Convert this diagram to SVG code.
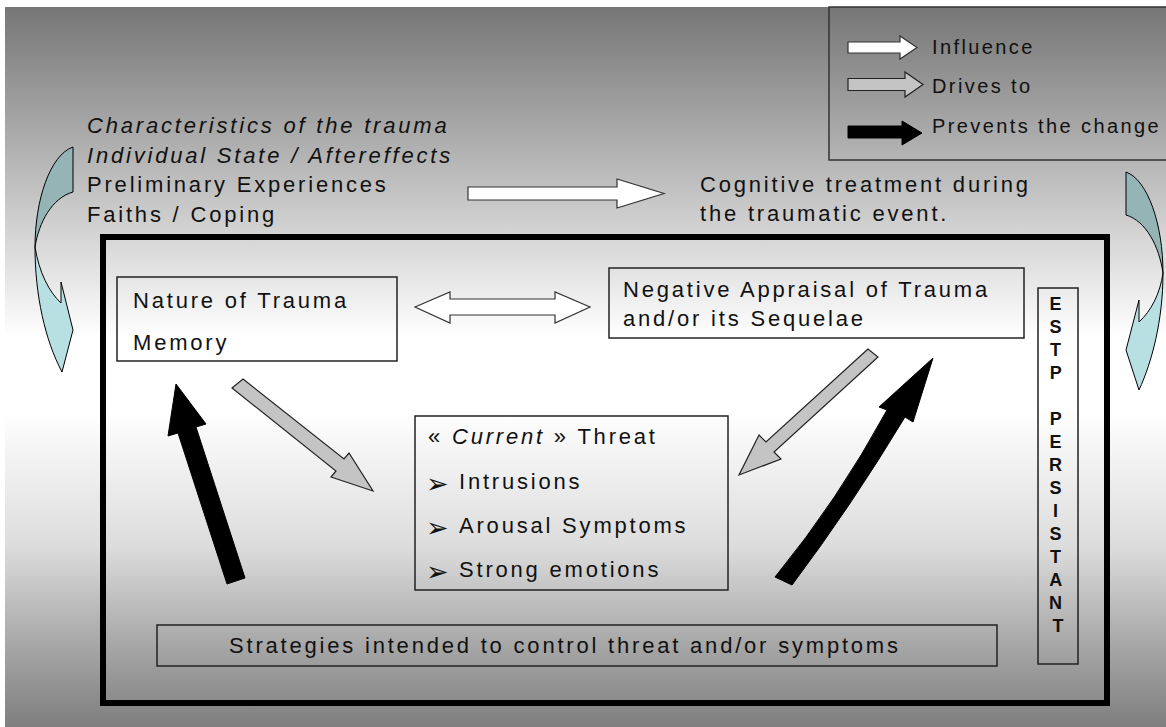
<svg xmlns="http://www.w3.org/2000/svg" width="1166" height="727" viewBox="0 0 1166 727">
  <defs>
    <linearGradient id="bg" x1="0" y1="0" x2="0" y2="1">
      <stop offset="0" stop-color="#767676"/>
      <stop offset="0.46" stop-color="#ffffff"/>
      <stop offset="0.56" stop-color="#ffffff"/>
      <stop offset="0.75" stop-color="#dcdcdc"/>
      <stop offset="0.88" stop-color="#a9a9a9"/>
      <stop offset="1" stop-color="#7e7e7e"/>
    </linearGradient>
  </defs>
  <style>
    text { font-family: "Liberation Sans", Arial, sans-serif; fill: #111; }
    .t { font-size: 22px; letter-spacing: 2.8px; }
    .it { font-style: italic; }
    .lg { font-size: 20px; letter-spacing: 2.4px; }
    .v { font-size: 18px; font-weight: bold; text-anchor: middle; }
    .bul { font-family: "DejaVu Sans", sans-serif; font-size: 27px; }
    .box { fill: none; stroke: #222; stroke-width: 1.5; }
    .white { fill: #ffffff; stroke: #333; stroke-width: 1.2; }
    .grey { fill: #c4c4c4; stroke: #222; stroke-width: 1.2; }
    .black { fill: #000; stroke: #000; stroke-width: 1; }
    .dark { fill: #94b4b6; stroke: #000; stroke-width: 1; }
    .light { fill: #b8e0e3; stroke: #000; stroke-width: 1; }
  </style>

  <!-- page background -->
  <rect x="0" y="0" width="1166" height="727" fill="#ffffff"/>
  <rect x="5" y="7" width="1161" height="720" fill="url(#bg)"/>

  <!-- legend -->
  <g id="legend">
    <rect x="829" y="7" width="345" height="153" fill="none" stroke="#333" stroke-width="1.5"/>
    <polygon class="white" points="848,42 900,42 900,36 917,47.5 900,59 900,53 848,53"/>
    <polygon class="grey" points="848,78.5 905,78.5 905,72 923,84.5 905,97 905,90.5 848,90.5"/>
    <polygon class="black" points="848,126 902,126 902,121 922,133 902,145 902,138 848,138"/>
    <text class="lg" x="932" y="54">Influence</text>
    <text class="lg" x="932" y="93">Drives to</text>
    <text class="lg" x="932" y="133">Prevents the change</text>
  </g>

  <!-- factors before the event -->
  <g id="factors">
    <text class="t it" x="87" y="133">Characteristics of the trauma</text>
    <text class="t it" x="87" y="163">Individual State / Aftereffects</text>
    <text class="t" x="87" y="192">Preliminary Experiences</text>
    <text class="t" x="87" y="222">Faiths / Coping</text>
  </g>

  <g id="cognitive-treatment">
    <text class="t" x="700" y="192">Cognitive treatment during</text>
    <text class="t" x="700" y="221">the traumatic event.</text>
  </g>

  <!-- curved side arrows -->
  <g id="loop-left">
    <path class="dark" d="M73,147 L73,192 C52,198 39,222 35,247 C35,200 50,155 73,147 Z"/>
    <path class="light" d="M35,247 C35,295 45,340 62,372 L73,330 L61,282 L61,303 C49,292 39,272 35,247 Z"/>
  </g>
  <g id="loop-right">
    <path class="dark" d="M1126,172 L1126,215 C1146,221 1159,246 1163,273 C1163,225 1148,180 1126,172 Z"/>
    <path class="light" d="M1163,273 C1163,320 1152,362 1139,390 L1126,350 L1139,300 L1139,322 C1151,311 1160,294 1163,273 Z"/>
  </g>

  <!-- main frame -->
  <g id="frame">
    <rect x="103" y="237" width="1004" height="466" fill="none" stroke="#000" stroke-width="6"/>
  </g>

  <g id="nature">
    <rect class="box" x="117" y="277" width="280" height="84"/>
    <text class="t" x="133" y="308">Nature of Trauma</text>
    <text class="t" x="133" y="350">Memory</text>
  </g>

  <g id="appraisal">
    <rect class="box" x="609" y="268" width="415" height="70"/>
    <text class="t" x="623" y="297">Negative Appraisal of Trauma</text>
    <text class="t" x="623" y="326">and/or its Sequelae</text>
  </g>

  <g id="estp">
    <rect class="box" x="1038" y="288" width="40" height="376"/>
    <text class="v">
      <tspan x="1058" y="310">E</tspan>
      <tspan x="1058" y="333">S</tspan>
      <tspan x="1058" y="356">T</tspan>
      <tspan x="1058" y="379">P</tspan>
      <tspan x="1058" y="425">P</tspan>
      <tspan x="1058" y="448">E</tspan>
      <tspan x="1058" y="471">R</tspan>
      <tspan x="1058" y="494">S</tspan>
      <tspan x="1058" y="517">I</tspan>
      <tspan x="1058" y="540">S</tspan>
      <tspan x="1058" y="563">T</tspan>
      <tspan x="1058" y="586">A</tspan>
      <tspan x="1058" y="609">N</tspan>
      <tspan x="1058" y="632">T</tspan>
    </text>
  </g>

  <g id="threat">
    <rect class="box" x="415" y="416" width="313" height="174"/>
    <text class="t" x="428" y="444">« <tspan class="it">Current</tspan> » Threat</text>
    <text class="bul" x="426" y="493">➢</text>
    <text class="t" x="459" y="489">Intrusions</text>
    <text class="bul" x="426" y="537">➢</text>
    <text class="t" x="459" y="533">Arousal Symptoms</text>
    <text class="bul" x="426" y="581">➢</text>
    <text class="t" x="459" y="577">Strong emotions</text>
  </g>

  <g id="strategies">
    <rect class="box" x="157" y="625" width="840" height="41"/>
    <text class="t" x="229" y="653">Strategies intended to control threat and/or symptoms</text>
  </g>

  <!-- connectors -->
  <g id="connectors">
    <polygon class="white" points="468,187 617,187 617,179 664,193.5 617,208 617,200 468,200"/>
    <polygon class="white" points="415,307 450,292 450,299 555,299 555,292 590,307 555,323 555,315 450,315 450,323"/>
    <polygon class="grey" points="243,379 344,459 349,453 373,491 331,477 336,471 232,388"/>
    <polygon class="grey" points="868,349 766,442 759,435 739,475 781,459 774,452 878,357"/>
    <polygon class="black" points="227,584 178,433 168,436 176,384 206,424 196,427 245,578"/>
    <path class="black" d="M775,577 Q838,500 887,410 L879,407 L933,358 L913,422 L905,417 Q852,505 792,585 Z"/>
  </g>
</svg>
